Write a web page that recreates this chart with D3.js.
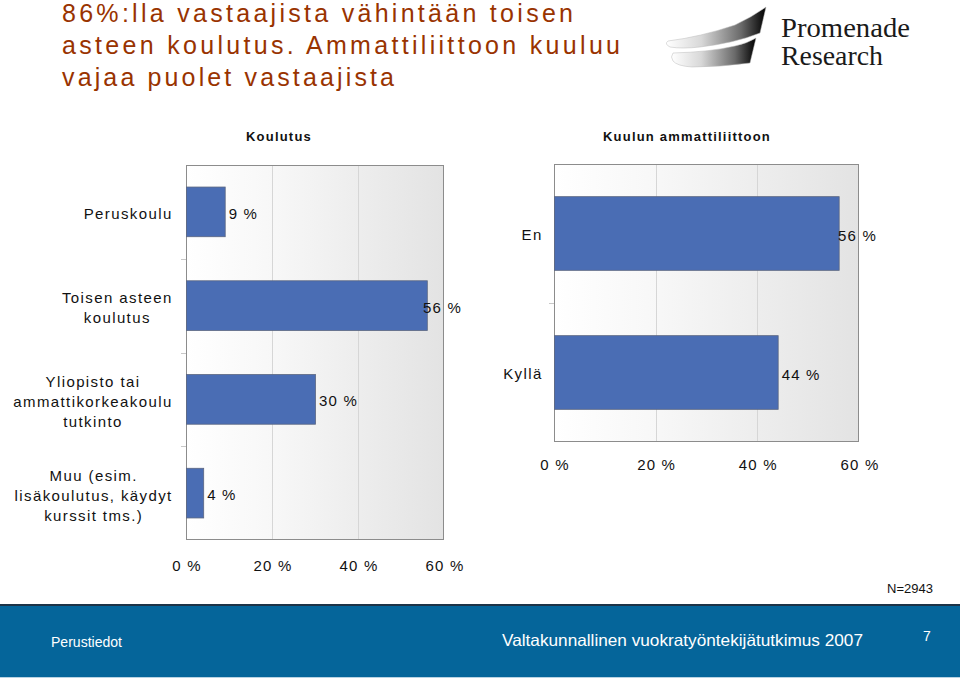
<!DOCTYPE html>
<html>
<head>
<meta charset="utf-8">
<script src="https://cdn.jsdelivr.net/npm/d3@7"></script>
<style>
  html, body { margin: 0; padding: 0; background: #ffffff; }
  svg { display: block; font-family: "Liberation Sans", Arial, sans-serif; }
</style>
</head>
<body>
<svg id="chart" width="960" height="679"></svg>
<script>
// ---------- data ----------
const titleLines = ["86%:lla vastaajista vähintään toisen", "asteen koulutus. Ammattiliittoon kuuluu", "vajaa puolet vastaajista"];
const eduTitle = "Koulutus";
const eduCategories = [["Peruskoulu"], ["Toisen asteen", "koulutus"], ["Yliopisto tai", "ammattikorkeakoulu", "tutkinto"], ["Muu (esim.", "lisäkoulutus, käydyt", "kurssit tms.)"]];
const eduValues = [9, 56, 30, 4];
const unionTitle = "Kuulun ammattiliittoon";
const unionCategories = [["En"], ["Kyllä"]];
const unionValues = [56, 44];
const tickValues = [0, 20, 40, 60];
const nText = "N=2943";
const footerLeft = "Perustiedot";
const footerRight = "Valtakunnallinen vuokratyöntekijätutkimus 2007";
const pageNumber = "7";

const svg = d3.select("#chart");
const defs = svg.append("defs");

// plot background gradient
const bg = defs.append("linearGradient").attr("id", "plotBg").attr("x1", 0).attr("x2", 1).attr("y1", 0).attr("y2", 0);
bg.append("stop").attr("offset", "0").attr("stop-color", "#ffffff");
bg.append("stop").attr("offset", "0.35").attr("stop-color", "#f7f7f7");
bg.append("stop").attr("offset", "1").attr("stop-color", "#e3e3e3");

// logo gradient
const lg = defs.append("linearGradient").attr("id", "logoG").attr("x1", 0).attr("x2", 1).attr("y1", 0).attr("y2", 0);
lg.append("stop").attr("offset", "0").attr("stop-color", "#ffffff");
lg.append("stop").attr("offset", "0.35").attr("stop-color", "#d8d8d8");
lg.append("stop").attr("offset", "0.75").attr("stop-color", "#6a6a6a");
lg.append("stop").attr("offset", "1").attr("stop-color", "#000000");

// ---------- title ----------
const titleColor = "#993300";
const titleLens = [511, 558, 332];
titleLines.forEach((t, i) => {
  svg.append("text")
    .attr("x", 62).attr("y", 22 + i * 32)
    .attr("font-size", 25)
    .attr("fill", titleColor)
    .attr("textLength", titleLens[i])
    .attr("lengthAdjust", "spacing")
    .text(t);
});

// ---------- logo ----------
const logo = svg.append("g");
logo.append("path")
  .attr("d", "M668,41 Q700,37 735,25 Q752,17 766,7 L760,33 Q735,43 700,47 Q682,49 670,47 Q664,44 668,41 Z")
  .attr("fill", "url(#logoG)").attr("stroke", "#bbbbbb").attr("stroke-width", 0.5);
logo.append("path")
  .attr("d", "M673,53 Q710,52 735,46 Q748,43 756,38 L750,63 Q720,67 692,67 Q677,66 673,61 Q670,57 673,53 Z")
  .attr("fill", "url(#logoG)").attr("stroke", "#bbbbbb").attr("stroke-width", 0.5);
logo.append("text").attr("x", 781).attr("y", 37)
  .attr("font-family", "'Liberation Serif', 'Times New Roman', serif")
  .attr("font-size", 27).attr("fill", "#1a1a1a")
  .attr("textLength", 129).attr("lengthAdjust", "spacingAndGlyphs")
  .text("Promenade");
logo.append("text").attr("x", 781).attr("y", 65)
  .attr("font-family", "'Liberation Serif', 'Times New Roman', serif")
  .attr("font-size", 27).attr("fill", "#1a1a1a")
  .attr("textLength", 102).attr("lengthAdjust", "spacingAndGlyphs")
  .text("Research");

// ---------- bar chart helper ----------
function drawChart(cfg) {
  const g = svg.append("g");
  const x = d3.scaleLinear().domain([0, 60]).range(cfg.xr);
  const y = d3.scaleBand().domain(d3.range(cfg.cats.length)).range(cfg.yr)
    .paddingInner(0.47).paddingOuter(0.235);

  // title
  g.append("text")
    .attr("x", cfg.titleX).attr("y", 140.5)
    .attr("text-anchor", "middle")
    .attr("font-size", 13).attr("font-weight", "bold")
    .attr("letter-spacing", 1.2)
    .attr("fill", "#111")
    .text(cfg.title);

  // plot background
  g.append("rect")
    .attr("x", cfg.xr[0]).attr("y", cfg.yr[0])
    .attr("width", cfg.xr[1] - cfg.xr[0]).attr("height", cfg.yr[1] - cfg.yr[0])
    .attr("fill", "url(#plotBg)");

  // gridlines
  g.append("g").selectAll("line").data(tickValues.slice(1, -1)).join("line")
    .attr("x1", d => Math.round(x(d)) + 0.5).attr("x2", d => Math.round(x(d)) + 0.5)
    .attr("y1", cfg.yr[0]).attr("y2", cfg.yr[1])
    .attr("stroke", "#d6d6d6").attr("stroke-width", 1);

  // category ticks at band boundaries
  const step = y.step();
  g.append("g").selectAll("line").data(d3.range(1, cfg.cats.length)).join("line")
    .attr("x1", cfg.xr[0] - 5).attr("x2", cfg.xr[0])
    .attr("y1", d => Math.round(y(d) - step * 0.235) + 0.5)
    .attr("y2", d => Math.round(y(d) - step * 0.235) + 0.5)
    .attr("stroke", "#c8c8c8").attr("stroke-width", 1);

  // border
  g.append("rect")
    .attr("x", cfg.xr[0] + 0.5).attr("y", cfg.yr[0] + 0.5)
    .attr("width", cfg.xr[1] - cfg.xr[0] - 1).attr("height", cfg.yr[1] - cfg.yr[0] - 1)
    .attr("fill", "none").attr("stroke", "#8c8c8c").attr("stroke-width", 1);

  // bars
  g.append("g").selectAll("rect").data(cfg.vals).join("rect")
    .attr("x", x(0) + 0.5)
    .attr("y", (d, i) => y(i))
    .attr("width", d => x(d) - x(0))
    .attr("height", y.bandwidth())
    .attr("fill", "#4a6db4")
    .attr("stroke", "#5b6680").attr("stroke-width", 0.8);

  // value labels
  g.append("g").selectAll("text").data(cfg.vals).join("text")
    .attr("x", d => Math.min(x(d) + 4, cfg.xr[1] - 21))
    .attr("y", (d, i) => y(i) + y.bandwidth() / 2 + 7)
    .attr("font-size", 15).attr("letter-spacing", 1.2)
    .attr("fill", "#111")
    .text(d => d + " %");

  // category labels (multi-line, centered lines, right-aligned block)
  cfg.cats.forEach((lines, i) => {
    const cy = y(i) + y.bandwidth() / 2 + cfg.labelDy;
    const tg = g.append("g");
    const ts = lines.map((ln, j) => tg.append("text")
      .attr("y", cy + 5.4 + (j - (lines.length - 1) / 2) * 20)
      .attr("font-size", 15).attr("letter-spacing", 1.4)
      .attr("text-anchor", "middle")
      .attr("fill", "#111")
      .text(ln));
    const maxW = d3.max(ts, t => t.node().getComputedTextLength()) - 1.4;
    ts.forEach(t => t.attr("x", cfg.labelRight - maxW / 2));
  });

  // x tick labels
  g.append("g").selectAll("text").data(tickValues).join("text")
    .attr("x", d => x(d) + 1)
    .attr("y", cfg.tickY)
    .attr("text-anchor", "middle")
    .attr("font-size", 15).attr("letter-spacing", 1.2)
    .attr("fill", "#111")
    .text(d => d + " %");
}

drawChart({
  title: eduTitle, titleX: 279, cats: eduCategories, vals: eduValues,
  xr: [186, 444], yr: [165, 540], labelRight: 172, labelDy: 2, tickY: 570.5
});
drawChart({
  title: unionTitle, titleX: 687, cats: unionCategories, vals: unionValues,
  xr: [554, 859], yr: [164, 442], labelRight: 542, labelDy: 1, tickY: 469.5
});

// ---------- N ----------
svg.append("text").attr("x", 933).attr("y", 593)
  .attr("text-anchor", "end").attr("font-size", 13)
  .attr("fill", "#111")
  .text(nText);

// ---------- footer ----------
svg.append("rect").attr("x", 0).attr("y", 604).attr("width", 960).attr("height", 2.5).attr("fill", "#1d3347");
svg.append("rect").attr("x", 0).attr("y", 606).attr("width", 960).attr("height", 71).attr("fill", "#05659a");
svg.append("rect").attr("x", 0).attr("y", 677).attr("width", 960).attr("height", 1).attr("fill", "#b9d3e3");
svg.append("text").attr("x", 51).attr("y", 647)
  .attr("font-size", 14).attr("fill", "#ffffff")
  .attr("textLength", 71).attr("lengthAdjust", "spacingAndGlyphs")
  .text(footerLeft);
svg.append("text").attr("x", 502).attr("y", 646)
  .attr("font-size", 16.5).attr("fill", "#ffffff")
  .attr("textLength", 361).attr("lengthAdjust", "spacingAndGlyphs")
  .text(footerRight);
svg.append("text").attr("x", 923).attr("y", 641)
  .attr("font-size", 14).attr("fill", "#ffffff")
  .text(pageNumber);
</script>
</body>
</html>
